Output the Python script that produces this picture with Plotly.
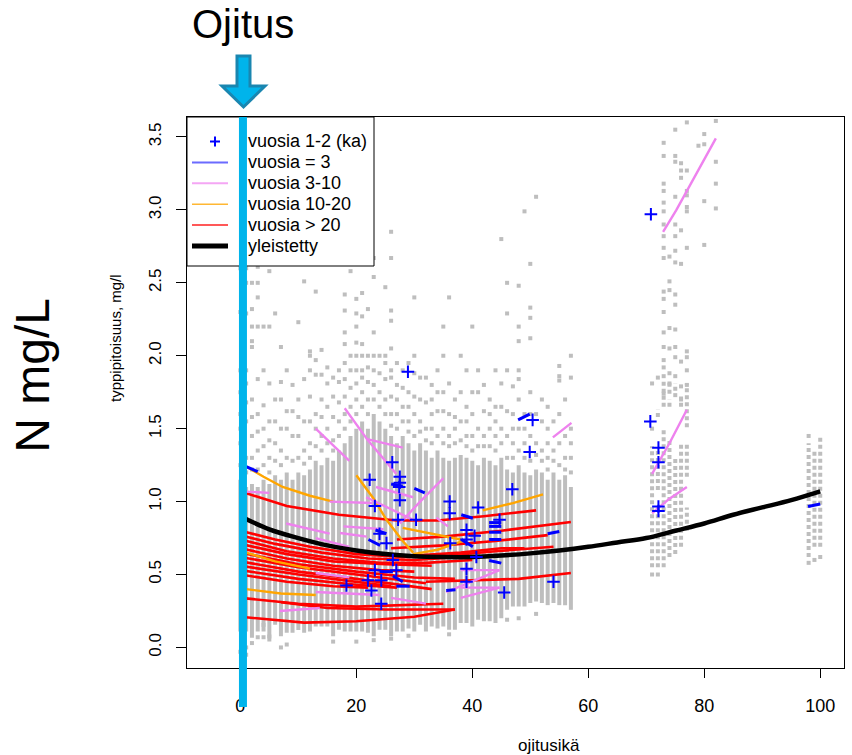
import plotly.graph_objects as go

# ---------------- data ----------------
# dense grey columns (age, low, high)
col_x = list(range(0, 58))
col_lo = [0.11, 0.11, 0.066, 0.11, 0.11, 0.04, 0.155, 0.076, 0.1, 0.1,
          0.12, 0.1, 0.11, 0.144, 0.144, 0.144, 0.076, 0.121, 0.11, 0.11,
          0.11, 0.11, 0.1, 0.076, 0.121, 0.121, 0.076, 0.11, 0.11, 0.13,
          0.11, 0.155, 0.11, 0.144, 0.13, 0.144, 0.121, 0.121, 0.167, 0.167,
          0.144, 0.19, 0.18, 0.18, 0.167, 0.2, 0.258, 0.28, 0.28, 0.28,
          0.304, 0.315, 0.304, 0.29, 0.304, 0.29, 0.29, 0.258]
col_hi = [1.15, 1.1, 1.12, 1.1, 1.15, 1.12, 1.18, 1.15, 1.2, 1.15,
          1.2, 1.18, 1.22, 1.28, 1.25, 1.3, 1.28, 1.35, 1.4, 1.45,
          1.5, 1.55, 1.5, 1.6, 1.55, 1.5, 1.45, 1.4, 1.45, 1.4,
          1.35, 1.4, 1.35, 1.3, 1.35, 1.3, 1.28, 1.3, 1.32, 1.3,
          1.28, 1.25, 1.3, 1.28, 1.25, 1.3, 1.22, 1.2, 1.25, 1.2,
          1.18, 1.22, 1.2, 1.15, 1.2, 1.15, 1.18, 1.1]

# dotted grey columns at older ages
rseg_x = [71, 72, 72, 72, 73, 73, 74, 74, 74, 75, 75, 76, 76, 77, 77, 77, 98, 99, 100]
rseg_lo = [0.55, 0.55, 1.08, 1.58, 0.55, 1.65, 0.62, 1.65, 1.74, 0.64, 1.76, 0.69, 1.65, 0.8, 1.17, 1.51, 0.62, 0.69, 0.69]
rseg_hi = [1.38, 0.96, 1.37, 1.63, 1.49, 1.83, 1.42, 1.7, 1.83, 1.3, 1.81, 1.4, 1.72, 0.96, 1.4, 1.81, 1.4, 1.35, 1.44]

# scattered grey observations (age, list of values)
sparse_x = list(range(0, 58)) + [71, 72, 73, 74, 75, 76, 77, 79, 80, 82, 98, 99, 100]
sparse_y = [
    [1.25, 1.4, 1.6, 1.9, 2.3, 2.6, -0.03, 1.5, 1.75],
    [1.3, 1.55, 1.81, 1.9, 2.29, 2.5, 2.6, 0.0, -0.05, 1.2, 1.68],
    [1.22, 1.45, 1.7, 2.06, 2.1, 2.32, 2.5, 2.2, 0.03, 1.3, 1.58],
    [1.35, 1.6, 1.84, 2.2, 2.4, 2.5, 2.61, 0.07, 1.22, 1.48],
    [1.25, 1.5, 1.9, 2.2, 0.07, 0.155, 1.38, 1.66],
    [1.3, 1.42, 1.81, 2.2, 2.58, 0.075, 1.2, 1.55],
    [1.28, 1.55, 2.29, 1.4, 1.7],
    [1.35, 1.7, 1.82, 2.06, 0.0, 1.25, 1.5],
    [1.3, 1.5, 1.9, 0.02, 1.62],
    [1.45, 1.62, 1.28, 1.8],
    [1.3, 1.7, 2.23, 1.45, 1.58],
    [1.35, 1.55, 1.84, 2.51, 1.26],
    [1.4, 2.0, 2.03, 1.9, 1.3, 1.55, 1.72],
    [1.38, 1.6, 1.97, 1.87, 2.44, 1.5],
    [1.45, 1.7, 1.87, 2.04, 1.35, 1.58],
    [1.5, 1.65, 1.81, 1.4, 1.92],
    [1.42, 1.72, 0.04, 1.35, 1.58, 1.85],
    [1.55, 1.82, 1.9, 1.45, 1.68],
    [1.6, 1.84, 1.95, 2.08, 2.16, 2.31, 2.42, 1.5, 1.72],
    [1.65, 1.9, 2.0, 2.58, 1.55, 1.78],
    [1.7, 1.81, 1.9, 2.0, 2.09, 2.2, 2.29, 2.39, 0.04, 1.6],
    [1.75, 1.85, 1.9, 2.0, 2.08, 2.27, 2.43, 1.65],
    [1.7, 1.82, 1.92, 2.0, 2.32, 1.6],
    [1.8, 1.9, 2.0, 2.16, 2.54, 2.67, 0.05, 1.7],
    [1.75, 1.88, 2.0, 1.65],
    [1.7, 1.84, 1.95, 2.0, 2.47, 1.6],
    [1.6, 1.85, 1.9, 2.05, 2.24, 2.31, 2.67, 2.85, 0.06, 1.52, 1.72],
    [1.6, 1.8, 1.95, 1.5, 1.7],
    [1.65, 1.78, 1.55, 1.9],
    [1.55, 1.75, 1.95, 0.08, 1.48, 1.65],
    [1.6, 1.72, 1.88, 2.0, 2.4, 1.45],
    [1.55, 1.7, 1.48, 1.85],
    [1.5, 1.68, 1.85, 1.42],
    [1.5, 1.6, 1.8, 1.4, 1.7],
    [1.45, 1.62, 1.9, 1.75],
    [1.5, 1.75, 2.0, 2.2, 1.4, 1.62],
    [1.45, 1.6, 1.81, 2.4, 0.09, 1.38],
    [1.5, 1.7, 1.4, 1.58],
    [1.55, 1.75, 2.0, 1.42],
    [1.45, 1.65, 1.9, 1.38, 1.55],
    [1.45, 1.6, 2.2, 1.35, 1.75],
    [1.5, 1.75, 1.9, 1.38],
    [1.45, 1.62, 1.38, 1.8],
    [1.5, 1.7, 1.38, 1.6],
    [1.45, 1.65, 1.9, 1.35, 1.55],
    [1.5, 1.81, 2.8, 1.4, 1.65],
    [1.45, 1.62, 1.9, 2.29, 2.5, 0.19, 1.3],
    [1.4, 1.6, 1.79, 1.3, 1.5],
    [1.5, 1.7, 1.84, 1.9, 2.1, 2.2, 2.48, 0.2, 1.35],
    [1.4, 1.6, 2.99, 1.3, 1.5],
    [1.45, 1.75, 2.12, 2.26, 2.33, 2.63, 1.28, 1.6],
    [1.4, 1.6, 3.09, 0.23, 1.32],
    [1.35, 1.55, 1.7, 1.28],
    [1.3, 1.5, 1.65, 1.22, 1.4],
    [1.35, 1.55, 1.28],
    [1.4, 1.6, 1.83, 1.86, 1.93, 1.25],
    [1.3, 1.45, 1.7, 1.22],
    [1.3, 1.5, 1.85, 2.0, 1.2, 1.4],
    [1.81, 0.5, 1.5],
    [1.85, 0.5],
    [3.46, 3.37, 3.18, 3.13, 3.05, 2.99, 2.9, 2.82, 2.74, 2.67, 2.44, 2.39, 2.3, 2.16, 2.06, 1.97, 1.92, 1.86, 1.74],
    [2.68, 2.51, 2.45, 2.19, 2.05, 1.88, 1.81],
    [3.55, 3.37, 3.33, 3.09, 2.9, 2.82, 2.72, 2.64, 2.42, 2.35, 2.18, 2.06, 1.99, 1.86, 1.73],
    [3.32, 3.27, 3.22, 2.86, 2.63, 1.96, 1.79, 1.7],
    [3.6, 3.27, 3.13, 3.1, 3.02, 2.99, 2.74, 2.03, 1.99, 1.9, 1.8],
    [3.44],
    [3.52, 3.45, 3.06, 2.76],
    [3.61, 3.33, 3.18, 3.01],
    [0.58, 1.45],
    [0.6],
    [0.62],
]

# site curves, > 20 years of data
red_lines = [
    [(0, 1.07), (8, 0.97), (17, 0.91), (27, 0.87), (34, 0.87), (42, 0.9), (51, 0.94)],
    [(0, 0.8), (6, 0.74), (12, 0.69), (20, 0.64), (28, 0.62), (36, 0.63), (44, 0.66), (54, 0.69)],
    [(0, 0.77), (6, 0.71), (14, 0.65), (22, 0.61), (30, 0.6), (38, 0.62)],
    [(0, 0.74), (8, 0.66), (16, 0.61), (24, 0.58), (32, 0.58), (40, 0.6)],
    [(0, 0.71), (8, 0.64), (16, 0.59), (25, 0.57), (33, 0.56)],
    [(0, 0.68), (8, 0.61), (16, 0.56), (24, 0.53), (30, 0.52)],
    [(0, 0.65), (10, 0.57), (20, 0.52), (30, 0.48), (37, 0.47)],
    [(0, 0.62), (10, 0.55), (20, 0.5), (28, 0.46), (32, 0.44)],
    [(0, 0.59), (10, 0.52), (20, 0.47), (28, 0.43), (33, 0.4)],
    [(0, 0.56), (10, 0.5), (18, 0.46), (26, 0.42)],
    [(0, 0.53), (10, 0.47), (20, 0.43), (27, 0.41)],
    [(0, 0.5), (8, 0.45), (16, 0.42), (22, 0.41)],
    [(0, 0.34), (10, 0.3), (20, 0.28), (30, 0.29), (35, 0.3)],
    [(0, 0.21), (5, 0.19), (11, 0.17), (20, 0.18), (30, 0.21), (37, 0.26)],
    [(7, 0.31), (15, 0.27), (25, 0.26), (37, 0.26)],
    [(32, 0.45), (40, 0.46), (48, 0.47), (57, 0.51)],
    [(27, 0.74), (35, 0.76), (45, 0.8), (57, 0.86)],
    [(26, 0.68), (35, 0.7), (44, 0.73), (53, 0.77)],
    [(30, 0.63), (38, 0.65), (45, 0.68), (49, 0.68)],
]
# 10-20 years
orange_lines = [
    [(1, 1.24), (4, 1.17), (7.3, 1.1), (12, 1.04), (16, 1.0)],
    [(20, 1.18), (23, 1.02), (25.2, 0.875), (28, 0.73), (29.8, 0.65)],
    [(28, 0.82), (33, 0.78), (38, 0.74)],
    [(29.8, 0.64), (34, 0.67), (38.4, 0.73)],
    [(41.8, 0.94), (47, 0.99), (52.2, 1.05)],
    [(1, 0.65), (6, 0.59), (12, 0.54)],
    [(1, 0.4), (7, 0.37), (13, 0.36)],
]
# 3-10 years
pink_lines = [
    [(0, 1.07), (5, 1.06)],
    [(13, 1.5), (18.8, 1.28)],
    [(18, 1.64), (22, 1.42), (26.9, 1.19)],
    [(21.7, 1.43), (28, 1.37)],
    [(27.5, 0.85), (31, 1.0), (35, 1.16)],
    [(23.4, 1.1), (29.8, 1.03)],
    [(15.4, 1.0), (22.8, 0.99)],
    [(7.9, 0.85), (15.4, 0.78)],
    [(17.8, 0.83), (24.7, 0.81)],
    [(17.2, 0.785), (21.8, 0.76)],
    [(13, 0.75), (18.8, 0.69)],
    [(21.7, 1.03), (29.8, 0.875)],
    [(13, 0.51), (18.8, 0.48)],
    [(13, 0.38), (24, 0.36)],
    [(6.8, 0.25), (13.7, 0.27)],
    [(26, 0.34), (32, 0.3)],
    [(33.8, 0.89), (35.8, 0.83)],
    [(35.5, 0.38), (44.7, 0.53)],
    [(38, 0.34), (44.7, 0.41)],
    [(38, 0.53), (44.7, 0.53)],
    [(38, 0.41), (44.7, 0.41)],
    [(53.9, 1.44), (57.1, 1.54)],
    [(72.9, 2.85), (75.2, 3.0), (82, 3.49)],
    [(71, 1.19), (74, 1.4), (77, 1.63)],
    [(71, 0.92), (74, 1.02), (77, 1.1)],
]
# exactly 3 years
blue_lines = [
    [(1, 1.24), (3, 1.205)], [(30, 1.09), (31.8, 1.06)], [(26, 1.12), (28, 1.105)],
    [(23.3, 0.805), (25.2, 0.78)], [(22.1, 0.74), (24.1, 0.7)], [(24, 0.52), (26.3, 0.52)],
    [(26.3, 0.49), (28, 0.45)], [(26.9, 0.42), (29.2, 0.42)], [(47.9, 1.56), (49.9, 1.6)],
    [(38.1, 0.91), (40.1, 0.886)], [(42.9, 0.856), (45, 0.856)], [(42.9, 0.83), (45, 0.83)],
    [(42.9, 0.79), (45, 0.79)], [(42.9, 0.74), (45, 0.74)], [(53, 0.78), (55, 0.795)],
    [(38.1, 0.74), (40.1, 0.69)], [(42.9, 0.596), (45, 0.578)], [(35.5, 0.39), (37.1, 0.395)],
    [(97.9, 0.966), (100, 0.984)],
]
# 1-2 years (mean)
cross_x = [26.2, 22.3, 27.5, 27.5, 27.4, 27.5, 23.2, 27.2, 30.3, 24, 25.2, 26.3, 26.9, 23.2,
           22, 24.3, 18.3, 22.6, 24.3, 28.9, 50.4, 49.9, 46.9, 41, 36.1, 36.1, 39, 39, 40.4,
           36.2, 44.7, 40.7, 39, 39, 45.5, 54, 70.7, 72.1, 72.1, 72.1, 72.1, 70.8]
cross_y = [1.27, 1.15, 1.17, 1.13, 1.1, 1.01, 0.97, 0.875, 0.875, 0.78, 0.715, 0.6, 0.53, 0.53,
           0.46, 0.46, 0.425, 0.39, 0.3, 1.89, 1.56, 1.34, 1.085, 0.96, 1.0, 0.92, 0.806, 0.74,
           0.765, 0.715, 0.875, 0.62, 0.54, 0.45, 0.377, 0.45, 1.55, 1.37, 1.27, 0.966, 0.936, 2.97]

# generalised curve
gen_x = [0, 5, 10, 15, 20, 25, 30, 35, 40, 45, 50, 55, 60, 65, 70, 75, 80, 85, 90, 95, 100]
gen_y = [0.9, 0.81, 0.75, 0.7, 0.665, 0.64, 0.625, 0.62, 0.62, 0.63, 0.645, 0.665, 0.69,
         0.72, 0.75, 0.8, 0.85, 0.91, 0.96, 1.01, 1.07]

legend_labels = ["vuosia 1-2 (ka)", "vuosia = 3", "vuosia 3-10", "vuosia 10-20", "vuosia > 20", "yleistetty"]
y_ticks = [0.0, 0.5, 1.0, 1.5, 2.0, 2.5, 3.0, 3.5]
x_ticks = [0, 20, 40, 60, 80, 100]

# ---------------- figure ----------------
W, H = 852, 755
ML, MR, MT, MB = 187, 8, 117, 87
PW, PH = W - ML - MR, H - MT - MB


def pxx(v):
    return (v - ML) / PW


def pxy(v):
    return (H - MB - v) / PH


def seg_xy(xs, los, his):
    X, Y = [], []
    for x, a, b in zip(xs, los, his):
        X += [x, x, None]
        Y += [a, b, None]
    return X, Y


def lines_xy(lines):
    X, Y = [], []
    for ln in lines:
        for (a, b) in ln:
            X.append(a)
            Y.append(b)
        X.append(None)
        Y.append(None)
    return X, Y


GREY = "#BEBEBE"
fig = go.Figure()

cx, cy = seg_xy(col_x, col_lo, col_hi)
fig.add_trace(go.Scatter(x=cx, y=cy, mode="lines", line=dict(color=GREY, width=4), showlegend=False, hoverinfo="skip"))
rx, ry = seg_xy(rseg_x, rseg_lo, rseg_hi)
fig.add_trace(go.Scatter(x=rx, y=ry, mode="lines", line=dict(color=GREY, width=4, dash="4px,3px"), showlegend=False, hoverinfo="skip"))
sx, sy = [], []
for x, vals in zip(sparse_x, sparse_y):
    for v in vals:
        sx.append(x)
        sy.append(v)
fig.add_trace(go.Scatter(x=sx, y=sy, mode="markers", marker=dict(symbol="square", size=4, color=GREY), showlegend=False, hoverinfo="skip"))

for lines, col, w in [(red_lines, "#FF0000", 2.6), (orange_lines, "#FFA500", 2.4), (pink_lines, "#EE82EE", 2.4), (blue_lines, "#0000FF", 3)]:
    lx, ly = lines_xy(lines)
    fig.add_trace(go.Scatter(x=lx, y=ly, mode="lines", line=dict(color=col, width=w), showlegend=False))

fig.add_trace(go.Scatter(x=gen_x, y=gen_y, mode="lines", line=dict(color="black", width=4.5, shape="spline"), showlegend=False))
fig.add_trace(go.Scatter(x=cross_x, y=cross_y, mode="markers",
                         marker=dict(symbol="cross-thin", size=9, line=dict(color="#0000FF", width=2)), showlegend=False))

FONT = "Liberation Sans, Arial, sans-serif"
shapes = []
# legend box
shapes.append(dict(type="rect", xref="paper", yref="paper", x0=0, x1=pxx(374), y0=pxy(266), y1=1,
                   fillcolor="white", line=dict(color="black", width=1), layer="above"))
rows = [141.5 + 20.9 * i for i in range(6)]
leg_cols = ["#0000FF", "#6B6BFF", "#F4A6F4", "#FFB733", "#FF2020", "#000000"]
leg_w = [2, 2, 2, 1.5, 1.5, 5]
shapes.append(dict(type="line", xref="paper", yref="paper", x0=pxx(210), x1=pxx(220), y0=pxy(rows[0]), y1=pxy(rows[0]),
                   line=dict(color="#0000FF", width=2), layer="above"))
shapes.append(dict(type="line", xref="paper", yref="paper", x0=pxx(215), x1=pxx(215), y0=pxy(rows[0] - 5), y1=pxy(rows[0] + 5),
                   line=dict(color="#0000FF", width=2), layer="above"))
for i in range(1, 6):
    shapes.append(dict(type="line", xref="paper", yref="paper", x0=pxx(192), x1=pxx(228), y0=pxy(rows[i]), y1=pxy(rows[i]),
                       line=dict(color=leg_cols[i], width=leg_w[i]), layer="above"))
# drainage line
shapes.append(dict(type="line", xref="x", yref="paper", x0=0.45, x1=0.45, y0=pxy(707), y1=1,
                   line=dict(color="#00B4EB", width=8), layer="above"))
# arrow
pts = [(237, 56), (250, 56), (250, 86), (265, 86), (243.5, 107), (222, 86), (237, 86)]
path = "M " + " L ".join(f"{pxx(a):.5f},{pxy(b):.5f}" for a, b in pts) + " Z"
shapes.append(dict(type="path", xref="paper", yref="paper", path=path, fillcolor="#00B4EB",
                   line=dict(color="#1A86B0", width=3), layer="above"))

annotations = []
for i, lab in enumerate(legend_labels):
    annotations.append(dict(text=lab, xref="paper", yref="paper", x=pxx(246), y=pxy(rows[i]), xanchor="left", yanchor="middle",
                            showarrow=False, font=dict(family=FONT, size=18, color="black")))
annotations.append(dict(text="Ojitus", xref="paper", yref="paper", x=pxx(243.3), y=pxy(24.4), xanchor="center", yanchor="middle",
                        showarrow=False, font=dict(family=FONT, size=40, color="black")))
annotations.append(dict(text="N mg/L", xref="paper", yref="paper", x=pxx(31.7), y=pxy(375), xanchor="center", yanchor="middle",
                        textangle=-90, showarrow=False, font=dict(family=FONT, size=48, color="black")))
annotations.append(dict(text="typpipitoisuus, mg/l", xref="paper", yref="paper", x=pxx(115), y=pxy(338), xanchor="center", yanchor="middle",
                        textangle=-90, showarrow=False, font=dict(family=FONT, size=15, color="black")))
annotations.append(dict(text="ojitusikä", xref="paper", yref="paper", x=pxx(549), y=pxy(745), xanchor="center", yanchor="middle",
                        showarrow=False, font=dict(family=FONT, size=17, color="black")))

fig.update_layout(
    width=W, height=H, margin=dict(l=ML, r=MR, t=MT, b=MB),
    paper_bgcolor="white", plot_bgcolor="white", showlegend=False,
    shapes=shapes, annotations=annotations,
    font=dict(family=FONT, color="black"),
    xaxis=dict(range=[-9.2, 104.1], tickvals=x_ticks, ticktext=[str(v) for v in x_ticks], ticks="outside", ticklen=9,
               tickcolor="black", showline=True, linecolor="black", linewidth=1, mirror=True, showgrid=False,
               zeroline=False, tickfont=dict(size=18), ticklabelstandoff=12),
    yaxis=dict(range=[-0.141, 3.637], tickvals=y_ticks, ticktext=[f"{v:.1f}" for v in y_ticks], ticks="outside", ticklen=10,
               tickcolor="black", showline=True, linecolor="black", linewidth=1, mirror=True, showgrid=False,
               zeroline=False, tickangle=-90, tickfont=dict(size=17), ticklabelstandoff=8),
)

fig.write_html("out.html", config={"displayModeBar": False},
               post_script="document.body.style.margin='0';document.body.style.overflow='hidden';")
